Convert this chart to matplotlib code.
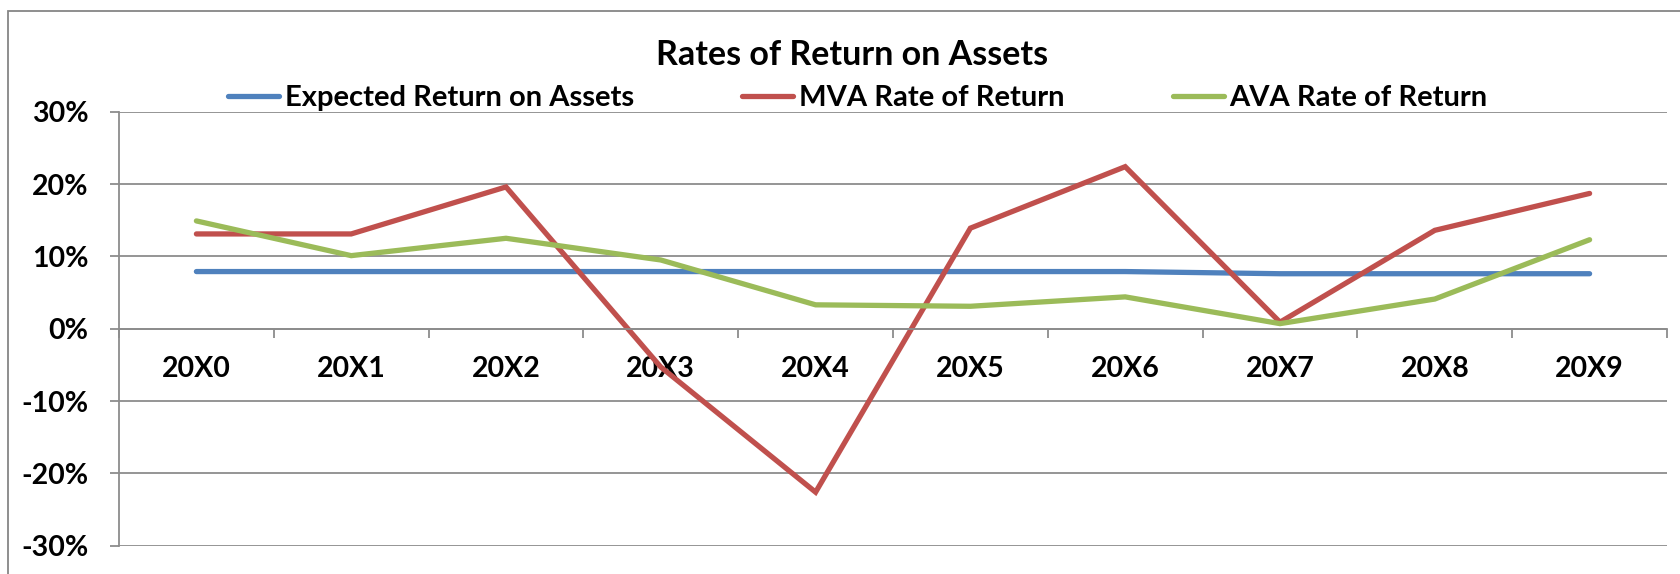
from matplotlib import pyplot as plt
from matplotlib.patches import Rectangle
from matplotlib.lines import Line2D
from matplotlib.ticker import FixedLocator, FuncFormatter
import numpy as np

years = ["20X0", "20X1", "20X2", "20X3", "20X4", "20X5", "20X6", "20X7", "20X8", "20X9"]
expected = [7.9, 7.9, 7.9, 7.9, 7.9, 7.9, 7.9, 7.6, 7.6, 7.6]
mva = [13.1, 13.1, 19.6, -5.3, -22.6, 13.9, 22.4, 0.9, 13.6, 18.7]
ava = [14.9, 10.1, 12.5, 9.5, 3.3, 3.1, 4.4, 0.7, 4.1, 12.3]

labels = ["Expected Return on Assets", "MVA Rate of Return", "AVA Rate of Return"]
colors = ["#4F81BD", "#C0504D", "#9BBB59"]
grid_c = "#8C8C8C"

plt.rcParams["font.family"] = ["Lato", "DejaVu Sans"]
plt.rcParams["font.weight"] = "bold"

fig = plt.figure(figsize=(16.8, 5.74), dpi=100)
ax = fig.add_axes([119 / 1680, 28.3 / 574, 1548 / 1680, 434 / 574])

x = np.arange(len(years))
for vals, c in zip([expected, mva, ava], colors):
    ax.plot(x, vals, color=c, lw=3.8, solid_capstyle="round", solid_joinstyle="miter")

ax.set_xlim(-0.5, len(years) - 0.5)
ax.set_ylim(-30, 30)
ax.set_yticks(range(-30, 31, 10))
ax.yaxis.set_major_formatter(FuncFormatter(lambda v, p: f"{v:.0f}%"))
ax.grid(axis="y", color=grid_c, lw=1.3)
ax.set_axisbelow(True)

for s in ["top", "right"]:
    ax.spines[s].set_visible(False)
ax.spines["left"].set_color(grid_c)
ax.spines["left"].set_linewidth(1.3)
ax.spines["bottom"].set_position(("data", 0))
ax.spines["bottom"].set_color(grid_c)
ax.spines["bottom"].set_linewidth(1.3)

ax.set_xticks(x)
ax.set_xticklabels(years)
ax.xaxis.set_minor_locator(FixedLocator(np.arange(-0.5, len(years), 1.0)))
ax.tick_params(axis="x", which="major", length=0, pad=20, labelsize=20.5)
ax.tick_params(axis="x", which="minor", length=6.5, width=1.3, color=grid_c, direction="out")
ax.tick_params(axis="y", length=6.5, width=1.3, color=grid_c, pad=15.5, labelsize=20.5)

handles = [Line2D([], [], color=c, lw=3.8, solid_capstyle="round") for c in colors]
fig.legend(handles, labels, loc="center", bbox_to_anchor=(858 / 1680, 1 - 98 / 574),
           ncol=3, frameon=False, fontsize=21, handlelength=1.75,
           handletextpad=0.2, columnspacing=3.7)

fig.text(852 / 1680, 1 - 65 / 574, "Rates of Return on Assets", ha="center",
         va="baseline", fontsize=24.5, fontweight="bold")

fig.add_artist(Rectangle((8 / 1680, -0.1), 1.2, 1.1 - 11 / 574, transform=fig.transFigure,
                         fill=False, edgecolor="#868686", lw=1.3, clip_on=False))

plt.savefig("out.png", dpi=100)
